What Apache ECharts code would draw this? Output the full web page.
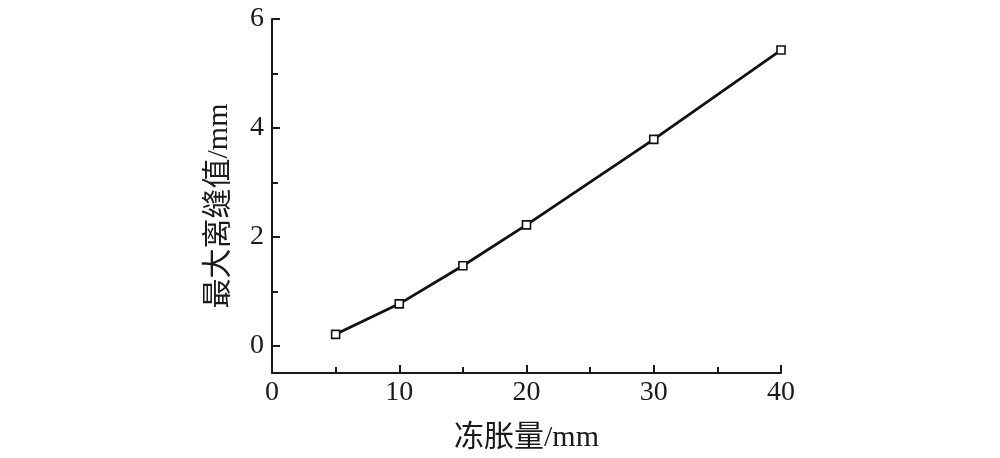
<!DOCTYPE html>
<html>
<head>
<meta charset="utf-8">
<script src="https://cdn.jsdelivr.net/npm/echarts@6/dist/echarts.min.js"></script>
<style>html,body{margin:0;padding:0;background:#fff;}#c{width:1000px;height:458px;}</style>
</head>
<body>
<div id="c"></div>
<script>
const frostHeave = [5, 10, 15, 20, 30, 40];
const maxGap = [0.21, 0.77, 1.47, 2.22, 3.79, 5.43];
const yMajorTicks = [0, 2, 4, 6];
const yMinorTicks = [1, 3, 5];
const xName = '冻胀量/mm';
const yName = '最大离缝值/mm';

const FONT = '"Liberation Serif", "Times New Roman", "Noto Sans CJK SC", serif';
const chart = echarts.init(document.getElementById('c'), null, {renderer: 'canvas'});
const axisLineStyle = {color: '#1a1a1a', width: 2};
chart.setOption({
  animation: false,
  backgroundColor: '#fff',
  grid: {left: 272, right: 219, top: 19, bottom: 79, containLabel: false},
  xAxis: {
    type: 'value', min: 0, max: 40, interval: 10,
    name: xName, nameLocation: 'middle', nameGap: 50,
    nameTextStyle: {fontFamily: FONT, fontSize: 30, color: '#1a1a1a'},
    axisLine: {show: true, onZero: false, lineStyle: axisLineStyle},
    axisTick: {show: true, inside: true, length: 8, lineStyle: {color: '#1a1a1a', width: 2}},
    minorTick: {show: true, splitNumber: 2, length: 6, lineStyle: {color: '#1a1a1a', width: 2}},
    axisLabel: {fontFamily: FONT, fontSize: 28, color: '#1a1a1a', margin: 6},
    splitLine: {show: false}, minorSplitLine: {show: false}
  },
  yAxis: [{
    type: 'value', min: -0.5, max: 6, position: 'left',
    name: yName, nameLocation: 'middle', nameGap: 38, nameRotate: 90,
    nameTextStyle: {fontFamily: FONT, fontSize: 30, color: '#1a1a1a', padding: [0, 20, 0, 0]},
    axisLine: {show: true, onZero: false, lineStyle: axisLineStyle},
    axisTick: {show: true, inside: true, length: 8, customValues: yMajorTicks, lineStyle: {color: '#1a1a1a', width: 2}},
    axisLabel: {fontFamily: FONT, fontSize: 28, color: '#1a1a1a', margin: 8, customValues: yMajorTicks},
    splitLine: {show: false}
  }, {
    type: 'value', min: -0.5, max: 6, position: 'left', offset: 0,
    axisLine: {show: false},
    axisTick: {show: true, inside: true, length: 6, customValues: yMinorTicks, lineStyle: {color: '#1a1a1a', width: 2}},
    axisLabel: {show: false},
    splitLine: {show: false}
  }],
  series: [{
    type: 'line',
    data: frostHeave.map((x, i) => [x, maxGap[i]]),
    lineStyle: {color: '#111', width: 2.8},
    symbol: 'rect', symbolSize: 8,
    itemStyle: {color: '#fff', borderColor: '#111', borderWidth: 1.6},
    z: 3
  }]
});
</script>
</body>
</html>
